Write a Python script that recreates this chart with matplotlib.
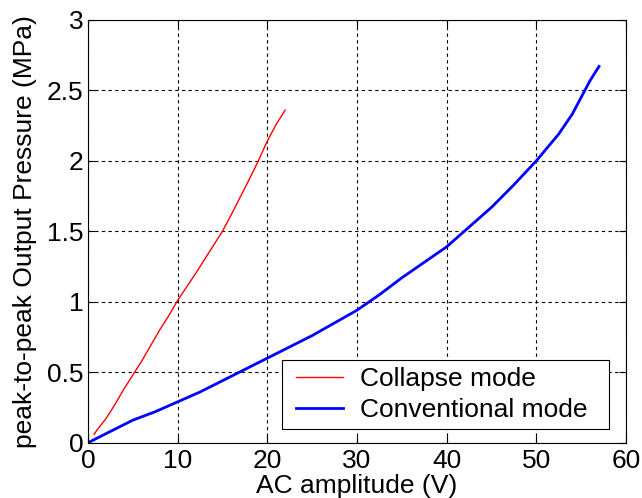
import matplotlib
matplotlib.use("Agg")
import matplotlib.pyplot as plt
from matplotlib.legend_handler import HandlerLine2D

plt.rcParams['font.family'] = ['Liberation Sans', 'DejaVu Sans']

# Collapse mode (red)
collapse_v = [0.7, 1, 2, 3, 4, 5, 6, 7, 8, 9, 10, 12, 14, 15, 16, 18, 19, 20, 21, 22]
collapse_p = [0.06, 0.09, 0.17, 0.27, 0.38, 0.48, 0.58, 0.69, 0.80, 0.90, 1.01,
              1.20, 1.40, 1.50, 1.62, 1.87, 2.00, 2.14, 2.26, 2.36]

# Conventional mode (blue)
conv_v = [0, 2.5, 5, 7.5, 10, 12.5, 15, 17.5, 20, 22.5, 25, 27.5, 30, 32.5, 35,
          37.5, 40, 42.5, 45, 47.5, 50, 52.5, 54, 55, 56, 57]
conv_p = [0, 0.08, 0.16, 0.22, 0.29, 0.36, 0.44, 0.52, 0.60, 0.68, 0.76, 0.85,
          0.94, 1.05, 1.17, 1.28, 1.39, 1.53, 1.67, 1.83, 2.00, 2.19, 2.33, 2.45,
          2.57, 2.67]

xticks = [0, 10, 20, 30, 40, 50, 60]
yticks = [0, 0.5, 1, 1.5, 2, 2.5, 3]
yticklabels = ['0', '0.5', '1', '1.5', '2', '2.5', '3']

fig = plt.figure(figsize=(6.42, 4.98), dpi=100)
ax = fig.add_axes([0.137, 0.111, 0.838, 0.849])

ax.plot(collapse_v, collapse_p, color='red', lw=1.0, label='Collapse mode')
ax.plot(conv_v, conv_p, color='blue', lw=2.0, label='Conventional mode')

ax.set_xlim(0, 60)
ax.set_ylim(0, 3)
ax.set_xticks(xticks)
ax.set_yticks(yticks)
ax.set_yticklabels(yticklabels)
ax.tick_params(direction='in', top=True, right=True, labelsize=19, length=5)
ax.tick_params(axis='x', pad=4.6)
ax.tick_params(axis='y', pad=3.2)
ax.grid(True, color='black', linestyle=(0, (3, 3)), lw=0.8)

ax.set_xlabel('AC amplitude (V)', fontsize=19)
ax.xaxis.set_label_coords(0.5, -0.073)
ax.set_ylabel('peak-to-peak Output Pressure (MPa)', fontsize=19, labelpad=7)

# legend box, MATLAB-like (padding left of the line sample)
hmap = {line: HandlerLine2D(xpad=0.27) for line in ax.get_lines()}
leg = ax.legend(loc='lower left', fontsize=19, fancybox=False, framealpha=1,
                edgecolor='black', borderaxespad=0.0, handlelength=2.04,
                borderpad=0.27, labelspacing=0.25, handletextpad=0.655,
                mode='expand', bbox_to_anchor=(0.3603, 0.032, 0.6088, 0.1),
                handler_map=hmap)
leg.get_frame().set_linewidth(0.8)

for s in ax.spines.values():
    s.set_linewidth(0.8)

fig.savefig('out.png', dpi=100)
